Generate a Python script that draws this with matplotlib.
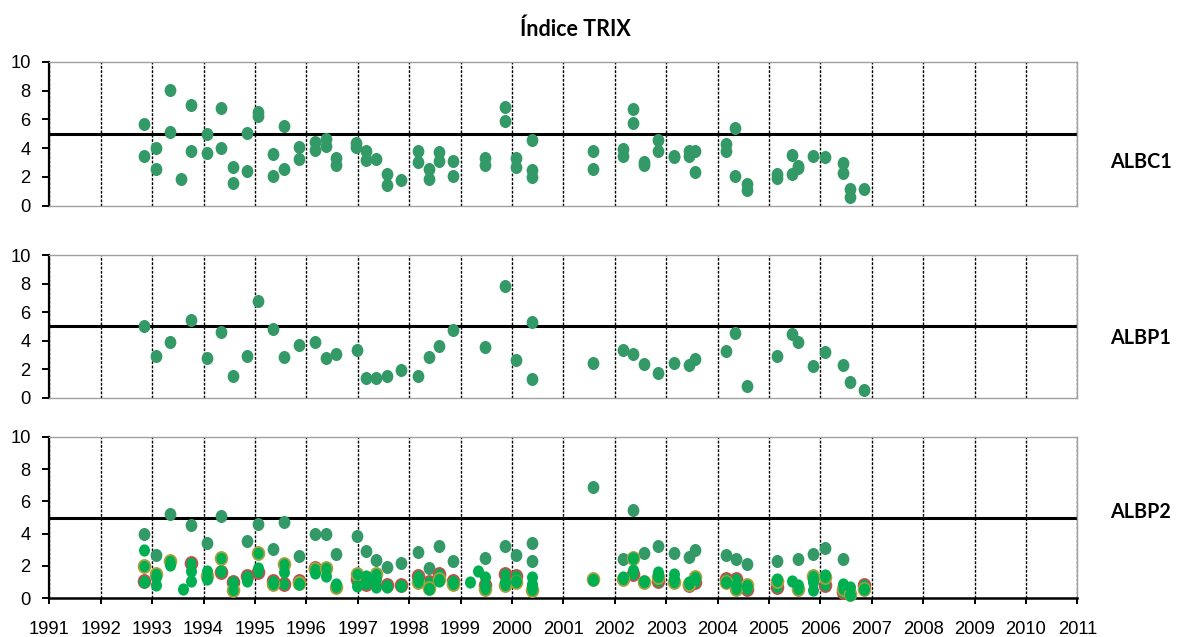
import numpy as np
import matplotlib
matplotlib.use("Agg")
import matplotlib.pyplot as plt
from matplotlib.path import Path
from matplotlib.transforms import Affine2D

# ---- data (decimal years, TRIX index) ----
albc1_x = [1992.85, 1992.85, 1993.07, 1993.07, 1993.35, 1993.35, 1993.57, 1993.76, 1993.76,
           1994.07, 1994.07, 1994.35, 1994.35, 1994.57, 1994.57, 1994.85, 1994.85, 1995.07,
           1995.07, 1995.35, 1995.35, 1995.57, 1995.57, 1995.85, 1995.85, 1996.16, 1996.16,
           1996.39, 1996.39, 1996.58, 1996.58, 1996.97, 1996.97, 1997.17, 1997.17, 1997.36,
           1997.57, 1997.57, 1997.85, 1998.17, 1998.17, 1998.39, 1998.39, 1998.58, 1998.58,
           1998.86, 1998.86, 1999.48, 1999.48, 1999.86, 1999.86, 2000.08, 2000.08, 2000.40,
           2000.40, 2000.40, 2001.57, 2001.57, 2002.16, 2002.16, 2002.35, 2002.35, 2002.57,
           2002.57, 2002.85, 2002.85, 2003.16, 2003.16, 2003.44, 2003.44, 2003.57, 2003.57,
           2004.16, 2004.16, 2004.35, 2004.35, 2004.57, 2004.57, 2005.16, 2005.16, 2005.44,
           2005.44, 2005.57, 2005.57, 2005.86, 2006.09, 2006.44, 2006.44, 2006.57, 2006.57,
           2006.85]
albc1_y = [5.67, 3.43, 4.04, 2.51, 8.04, 5.13, 1.87, 7.02, 3.78,
           4.96, 3.66, 6.78, 4.00, 2.70, 1.54, 5.08, 2.43, 6.50,
           6.22, 3.62, 2.06, 5.51, 2.51, 4.09, 3.26, 4.44, 3.85,
           4.61, 4.18, 3.31, 2.79, 4.35, 4.09, 3.83, 3.19, 3.24,
           2.22, 1.44, 1.80, 3.83, 3.03, 2.53, 1.82, 3.71, 3.10,
           3.07, 2.06, 3.31, 2.79, 6.86, 5.86, 3.31, 2.70, 4.56,
           2.48, 1.96, 3.78, 2.55, 3.97, 3.43, 6.69, 5.74, 3.03,
           2.81, 4.54, 3.78, 3.48, 3.40, 3.78, 3.48, 3.83, 2.32,
           4.26, 3.83, 5.41, 2.08, 1.47, 1.06, 2.22, 1.94, 3.50,
           2.17, 2.77, 2.60, 3.48, 3.36, 2.98, 2.25, 1.18, 0.59,
           1.13]

albp1_x = [1992.85, 1993.07, 1993.35, 1993.76, 1994.07, 1994.35, 1994.57, 1994.85, 1995.07,
           1995.35, 1995.57, 1995.85, 1996.16, 1996.39, 1996.58, 1996.98, 1997.17, 1997.36,
           1997.57, 1997.85, 1998.17, 1998.39, 1998.58, 1998.86, 1999.48, 1999.86, 2000.08,
           2000.40, 2000.40, 2001.57, 2002.16, 2002.35, 2002.57, 2002.85, 2003.16, 2003.44,
           2003.57, 2004.16, 2004.35, 2004.57, 2005.16, 2005.44, 2005.57, 2005.86, 2006.09,
           2006.44, 2006.57, 2006.85]
albp1_y = [5.05, 2.90, 3.93, 5.48, 2.81, 4.60, 1.55, 2.93, 6.79,
           4.81, 2.83, 3.69, 3.88, 2.81, 3.05, 3.38, 1.38, 1.38,
           1.55, 1.95, 1.50, 2.86, 3.62, 4.76, 3.55, 7.83, 2.62,
           5.33, 1.33, 2.45, 3.38, 3.07, 2.33, 1.76, 2.40, 2.29,
           2.74, 3.26, 4.57, 0.83, 2.93, 4.45, 3.93, 2.19, 3.21,
           2.29, 1.12, 0.52]

# ALBP2: four series
albp2_a_x = [1992.85, 1993.07, 1993.35, 1993.76, 1994.07, 1994.35, 1994.85, 1995.07, 1995.35,
             1995.57, 1995.85, 1996.16, 1996.39, 1996.58, 1996.98, 1997.17, 1997.36, 1997.57,
             1997.85, 1998.17, 1998.39, 1998.58, 1998.86, 1999.48, 1999.86, 2000.08, 2000.40,
             2000.40, 2001.57, 2002.16, 2002.35, 2002.57, 2002.85, 2003.16, 2003.44, 2003.57,
             2004.16, 2004.36, 2004.57, 2005.16, 2005.57, 2005.86, 2006.09, 2006.44]
albp2_a_y = [3.96, 2.66, 5.22, 4.52, 3.40, 5.11, 3.55, 4.60, 3.05,
             4.74, 2.60, 3.96, 3.96, 2.76, 3.86, 2.91, 2.39, 1.94,
             2.21, 2.87, 1.86, 3.24, 2.31, 2.52, 3.26, 2.66, 3.42,
             2.31, 6.87, 2.45, 5.46, 2.82, 3.22, 2.80, 2.54, 2.99,
             2.66, 2.41, 2.10, 2.29, 2.45, 2.76, 3.09, 2.41]

albp2_b_x = [1992.85, 1993.76, 1994.35, 1994.57, 1994.85, 1995.07, 1995.35, 1995.57, 1995.85,
             1996.16, 1996.98, 1997.17, 1997.57, 1997.85, 1998.17, 1998.39, 1998.58, 1998.86,
             1999.48, 1999.86, 2000.08, 2002.35, 2002.85, 2003.44, 2003.57, 2004.16, 2004.36,
             2004.57, 2005.16, 2006.09, 2006.44, 2006.85]
albp2_b_y = [1.10, 2.20, 1.60, 1.00, 1.40, 1.60, 1.10, 0.90, 1.10,
             1.90, 1.20, 0.90, 0.85, 0.80, 1.40, 1.00, 1.50, 1.10,
             0.80, 1.50, 1.40, 1.50, 1.10, 0.80, 1.00, 1.20, 1.20,
             0.60, 0.70, 0.80, 0.40, 0.80]

albp2_c_x = [1992.85, 1993.07, 1993.35, 1994.07, 1994.35, 1994.57, 1995.07, 1995.35, 1995.57,
             1995.85, 1996.16, 1996.39, 1996.58, 1996.98, 1997.36, 1998.17, 1998.39, 1998.58,
             1998.86, 1999.48, 1999.86, 2000.08, 2000.40, 2001.57, 2002.16, 2002.35, 2002.57,
             2002.85, 2003.16, 2003.44, 2003.57, 2004.16, 2004.36, 2004.57, 2005.16, 2005.57,
             2005.86, 2006.09, 2006.44, 2006.57, 2006.85]
albp2_c_y = [2.00, 1.50, 2.30, 1.40, 2.50, 0.50, 2.80, 0.90, 2.10,
             0.95, 1.80, 1.85, 0.70, 1.50, 1.50, 1.00, 0.65, 1.20,
             0.90, 0.60, 0.80, 1.00, 0.50, 1.20, 1.20, 2.50, 1.00,
             1.30, 1.00, 0.90, 1.30, 1.00, 0.60, 0.80, 1.10, 0.55,
             1.35, 1.30, 0.60, 0.25, 0.60]

albp2_d_x = [1992.85, 1992.85, 1993.07, 1993.07, 1993.35, 1993.60, 1993.76, 1993.76, 1994.07,
             1994.07, 1994.35, 1994.57, 1994.85, 1994.85, 1995.07, 1995.35, 1995.57, 1995.85,
             1996.16, 1996.39, 1996.58, 1996.98, 1997.17, 1997.17, 1997.36, 1997.36, 1997.57,
             1997.85, 1998.17, 1998.39, 1998.58, 1998.86, 1999.18, 1999.34, 1999.48, 1999.48,
             1999.86, 2000.08, 2000.40, 2000.40, 2000.40, 2001.57, 2002.16, 2002.35, 2002.35,
             2002.57, 2002.85, 2002.85, 2003.16, 2003.16, 2003.44, 2003.57, 2004.16, 2004.36,
             2004.57, 2005.16, 2005.44, 2005.57, 2005.86, 2005.86, 2005.86, 2006.09, 2006.44,
             2006.57, 2006.57, 2006.85]
albp2_d_y = [3.00, 1.00, 0.85, 1.30, 2.05, 0.60, 1.70, 1.10, 1.70,
             1.20, 1.70, 1.00, 1.10, 1.30, 1.90, 1.00, 1.60, 0.90,
             1.55, 1.40, 0.90, 0.75, 1.40, 1.05, 1.20, 0.70, 0.70,
             0.75, 1.20, 0.60, 1.05, 1.00, 1.00, 1.70, 1.30, 0.75,
             1.00, 1.10, 1.30, 0.90, 0.70, 1.15, 1.30, 2.50, 1.75,
             1.05, 1.60, 1.40, 1.50, 1.20, 1.00, 1.20, 1.00, 0.80,
             0.70, 1.20, 1.10, 0.80, 1.00, 0.50, 1.20, 1.45, 0.90,
             0.20, 0.70, 0.60]

years = list(range(1991, 2012))
threshold = 5
dark_green = "#339966"
bright_green = "#00B050"

# slightly tall ellipse marker, like the excel one
ell = Path.unit_circle().transformed(Affine2D().scale(0.9, 1.0))

fig = plt.figure(figsize=(11.78, 6.37), dpi=100)
W, H = 1178, 637


def make_axes(top, bottom, last):
    ax = fig.add_axes([49.3 / W, 1 - bottom / H, 1028 / W, (bottom - top) / H])
    ax.set_xlim(1991, 2011)
    ax.set_ylim(0, 10)
    ax.set_yticks(range(0, 11, 2))
    ax.set_xticks(years)
    ax.grid(axis="x", color="black", linestyle=(0, (2, 1.1)), linewidth=1.0)
    ax.set_axisbelow(True)
    ax.axhline(threshold, color="black", linewidth=2.2, zorder=2)
    for s in ("top", "right"):
        ax.spines[s].set_color("#A0A0A0")
        ax.spines[s].set_linewidth(1.0)
    ax.spines["left"].set_color("black")
    ax.spines["left"].set_linewidth(1.6)
    ax.tick_params(axis="y", direction="out", length=5, width=1.4, pad=8.4,
                   labelsize=13.2)
    if last:
        ax.spines["bottom"].set_color("black")
        ax.spines["bottom"].set_linewidth(1.8)
        ax.tick_params(axis="x", direction="out", length=4, width=1.4, pad=12,
                       labelsize=13.2)
    else:
        ax.spines["bottom"].set_color("#A0A0A0")
        ax.spines["bottom"].set_linewidth(1.0)
        ax.tick_params(axis="x", length=0, labelbottom=False)
    for lab in ax.get_xticklabels() + ax.get_yticklabels():
        lab.set_fontfamily("Liberation Sans")
    return ax


ax1 = make_axes(62, 205.5, False)
ax2 = make_axes(255.3, 397.6, False)
ax3 = make_axes(436.8, 598.3, True)

ms = 9.4
ax1.plot(albc1_x, albc1_y, linestyle="none", marker=ell, markersize=ms,
         color=dark_green, markeredgewidth=0, zorder=3, clip_on=False)
ax2.plot(albp1_x, albp1_y, linestyle="none", marker=ell, markersize=ms,
         color=dark_green, markeredgewidth=0, zorder=3, clip_on=False)

ax3.plot(albp2_a_x, albp2_a_y, linestyle="none", marker=ell, markersize=ms,
         color=dark_green, markeredgewidth=0, zorder=3, clip_on=False)
ax3.plot(albp2_b_x, albp2_b_y, linestyle="none", marker=ell, markersize=ms,
         markerfacecolor=bright_green, markeredgecolor="#C0504D",
         markeredgewidth=1.3, zorder=4, clip_on=False)
ax3.plot(albp2_c_x, albp2_c_y, linestyle="none", marker=ell, markersize=ms,
         markerfacecolor=bright_green, markeredgecolor="#A5A040",
         markeredgewidth=1.3, zorder=5, clip_on=False)
ax3.plot(albp2_d_x, albp2_d_y, linestyle="none", marker=ell, markersize=ms - 0.6,
         color=bright_green, markeredgewidth=0, zorder=6, clip_on=False)

# titles and station labels
fig.text(575 / W, 1 - 29 / H, "Índice TRIX", ha="center", va="center",
         fontfamily="Lato", fontweight="bold", fontsize=15.5)
for name, ypx in (("ALBC1", 162), ("ALBP1", 338), ("ALBP2", 512)):
    fig.text(1110 / W, 1 - ypx / H, name, ha="left", va="center",
             fontfamily="Lato", fontweight="bold", fontsize=14.2)

fig.savefig("out.png", dpi=100)
